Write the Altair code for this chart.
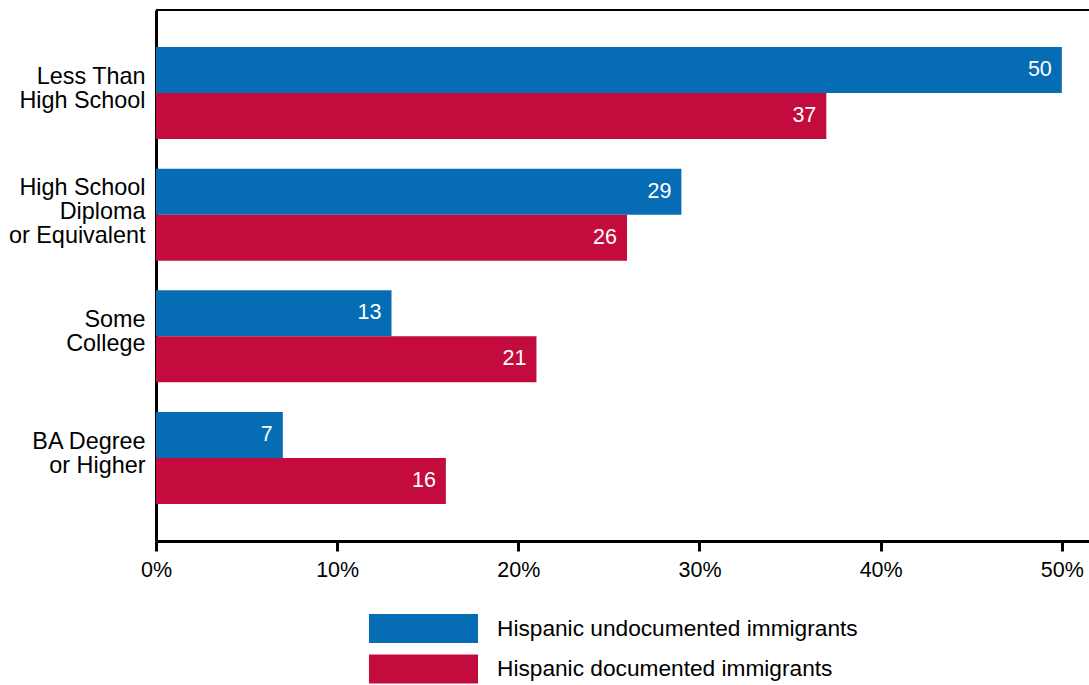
import altair as alt
import pandas as pd

categories = ["Less Than|High School", "High School|Diploma|or Equivalent", "Some|College", "BA Degree|or Higher"]
series = ["Hispanic undocumented immigrants", "Hispanic documented immigrants"]
undocumented = [50, 29, 13, 7]
documented = [37, 26, 21, 16]
x_ticks = [0, 10, 20, 30, 40, 50]
colors = ["#066CB4", "#C30B3D"]

rows = []
for c, u, d in zip(categories, undocumented, documented):
    rows.append({"category": c, "series": series[0], "value": u})
    rows.append({"category": c, "series": series[1], "value": d})
df = pd.DataFrame(rows)

FONT = "Liberation Sans"
W, H = 933, 531

x_enc = alt.X("value:Q", scale=alt.Scale(domain=[0, 51.5], nice=False, zero=True),
              axis=alt.Axis(values=x_ticks, labelExpr="datum.value + '%'", title=None,
                            grid=False, tickSize=10, tickWidth=3, tickColor="black",
                            domainWidth=3, domainColor="black", labelFontSize=21.5,
                            labelFont=FONT, labelColor="black", labelPadding=8,
                            labelFlush=False))
y_enc = alt.Y("category:N", sort=categories,
              scale=alt.Scale(paddingInner=0.244, paddingOuter=0.304),
              axis=alt.Axis(title=None, ticks=False, domainWidth=3, domainColor="black",
                            labelExpr="split(datum.label, '|')", labelFontSize=23.4,
                            labelFont=FONT, labelColor="black", labelPadding=11,
                            labelLineHeight=24, labelAlign="right", labelLimit=300,
                            labelOffset={"condition": {"test": "datum.value == 'High School|Diploma|or Equivalent'",
                                                       "value": -27},
                                         "value": -16}))
yoff = alt.YOffset("series:N", sort=series, scale=alt.Scale(paddingInner=0, paddingOuter=0))

bars = alt.Chart(df).mark_bar().encode(
    x=x_enc, y=y_enc, yOffset=yoff,
    color=alt.Color("series:N", sort=series, scale=alt.Scale(domain=series, range=colors),
                    legend=alt.Legend(title=None, orient="none", legendX=253, legendY=604,
                                      symbolType="M-3.76,-1H3.76V1H-3.76Z", symbolSize=841,
                                      symbolStrokeWidth=0, labelFontSize=22.7, labelFont=FONT,
                                      labelColor="black", labelOffset=59, rowPadding=11.5,
                                      labelLimit=500, padding=0, direction="vertical"))
)

labels = alt.Chart(df).mark_text(align="right", baseline="middle", dx=-10, color="white",
                                 fontSize=21.5, font=FONT).encode(
    x="value:Q", y=alt.Y("category:N", sort=categories), yOffset=yoff, text="value:Q"
)

top_rule = alt.Chart(pd.DataFrame({"a": [0]})).mark_rule(color="black", strokeWidth=2).encode(
    x=alt.value(0), x2=alt.value(W), y=alt.value(0)
)

chart = alt.layer(bars, labels, top_rule).properties(
    width=W, height=H,
    autosize=alt.AutoSizeParams(type="none"),
    padding={"left": 156, "top": 10, "right": 0, "bottom": 144},
).configure_view(stroke=None).configure(background="white")

chart.save("out.html", embed_options={"renderer": "svg", "actions": False})
